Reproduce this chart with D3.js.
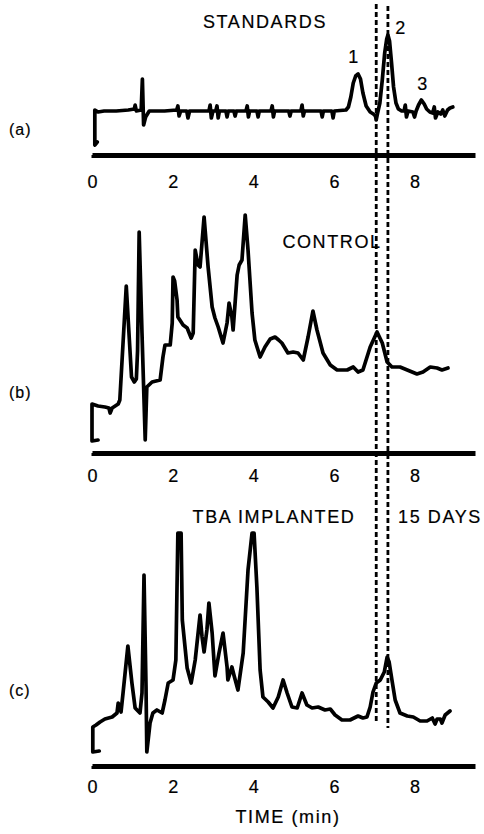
<!DOCTYPE html>
<html>
<head>
<meta charset="utf-8">
<script src="https://cdn.jsdelivr.net/npm/d3@7"></script>
<style>
  body { margin: 0; background: #fff; }
  text { font-family: "Liberation Sans", Arial, sans-serif; fill: #000; stroke: #000; stroke-width: 0.2px; }
</style>
</head>
<body>
<div id="chart"></div>
<script>
// chromatograms, time in min, response in arbitrary detector units

const timeTicks = [0, 2, 4, 6, 8];
const markerTimes = [7.05, 7.34];

const traceA = [
    [0.13,3],[0.07,0],[0.07,35],[0.15,33],[0.3,34],[0.6,34],[0.9,35],[1.05,36],[1.07,40],[1.1,34],[1.22,35],
    [1.25,66],[1.28,20],[1.33,28],[1.42,34],[1.8,34],[2.1,35],[2.13,39],[2.16,29],[2.2,34],[2.35,34],
    [2.38,27],[2.42,34],[2.9,34],[2.93,40],[2.96,27],[3.0,34],[3.07,34],[3.1,39],[3.13,27],[3.16,34],
    [3.32,34],[3.35,28],[3.38,34],[3.52,34],[3.55,29],[3.58,34],[3.82,34],[3.85,39],[3.88,28],[3.91,34],
    [4.09,34],[4.12,28],[4.15,34],[4.44,34],[4.47,39],[4.5,28],[4.53,34],[4.88,34],[4.91,29],[4.94,34],
    [5.18,34],[5.21,40],[5.24,29],[5.27,34],[5.68,34],[5.71,28],[5.74,34],[5.95,34],[5.98,27],[6.01,34],
    [6.3,35],[6.36,38],[6.42,48],[6.48,62],[6.54,69],[6.6,71],[6.66,66],[6.72,52],[6.8,39],[6.9,33],
    [6.98,31],[7.03,29],[7.05,25],[7.08,31],[7.14,42],[7.2,65],[7.26,92],[7.31,106],[7.34,110],[7.38,104],
    [7.43,82],[7.48,58],[7.54,42],[7.6,36],[7.68,34],[7.74,34],[7.77,40],[7.8,28],[7.84,34],[7.96,33],
    [8.0,28],[8.04,34],[8.1,40],[8.17,45],[8.24,41],[8.3,36],[8.38,33],[8.45,32],[8.49,38],[8.52,27],
    [8.58,33],[8.65,31],[8.7,35],[8.75,29],[8.82,35],[8.88,37],[8.95,38]
];

const traceB = [
    [0.15,1],[0,0],[0,37],[0.15,35],[0.32,34],[0.42,33],[0.45,28],[0.5,33],[0.65,37],[0.69,41],[0.85,155],
    [0.98,64],[1.05,59],[1.1,62],[1.13,90],[1.17,209],[1.24,108],[1.32,1],[1.36,54],[1.49,59],[1.69,61],
    [1.76,84],[1.81,96],[1.94,96],[1.99,118],[2.01,164],[2.05,160],[2.11,141],[2.13,124],[2.26,116],[2.36,113],
    [2.46,103],[2.51,108],[2.56,191],[2.63,176],[2.68,174],[2.78,224],[2.88,174],[2.98,134],[3.05,123],[3.13,114],
    [3.25,98],[3.35,118],[3.40,138],[3.47,124],[3.50,111],[3.60,166],[3.65,176],[3.72,181],[3.80,226],[3.87,191],
    [3.97,128],[4.04,101],[4.17,84],[4.29,94],[4.42,102],[4.54,104],[4.63,101],[4.71,98],[4.86,88],[4.99,89],
    [5.11,88],[5.24,81],[5.36,104],[5.48,130],[5.58,111],[5.73,88],[5.91,76],[6.08,71],[6.33,71],[6.48,74],
    [6.60,69],[6.72,71],[6.90,94],[7.07,109],[7.20,98],[7.32,79],[7.44,74],[7.64,74],[7.82,71],[8.06,67],
    [8.21,69],[8.39,74],[8.56,73],[8.68,71],[8.83,73]
];

const traceC = [
    [0.18,1],[0.02,0],[0.02,25],[0.1,27],[0.2,30],[0.32,33],[0.5,35],[0.62,39],[0.65,49],[0.72,40],[0.77,59],
    [0.89,106],[0.99,69],[1.07,44],[1.19,39],[1.24,59],[1.29,177],[1.34,65],[1.36,0],[1.44,29],[1.51,39],
    [1.61,42],[1.74,39],[1.81,52],[1.89,69],[2.01,72],[2.08,92],[2.13,219],[2.21,219],[2.24,132],[2.36,84],
    [2.46,69],[2.56,92],[2.68,137],[2.73,115],[2.78,100],[2.85,122],[2.90,149],[2.98,119],[3.05,76],[3.15,99],
    [3.25,119],[3.35,85],[3.37,72],[3.47,85],[3.52,77],[3.62,62],[3.75,99],[3.87,182],[3.97,219],[4.02,219],
    [4.09,165],[4.17,82],[4.24,55],[4.37,50],[4.49,44],[4.62,55],[4.74,72],[4.84,59],[4.96,45],[5.09,44],
    [5.21,59],[5.33,47],[5.46,44],[5.61,45],[5.78,42],[5.91,43],[6.03,37],[6.20,32],[6.40,32],[6.60,36],
    [6.72,34],[6.82,35],[6.90,45],[6.97,60],[7.05,69],[7.15,72],[7.25,80],[7.32,95],[7.37,90],[7.44,72],
    [7.52,52],[7.64,39],[7.82,36],[7.97,35],[8.14,31],[8.31,31],[8.44,34],[8.51,28],[8.56,33],[8.64,33],
    [8.68,29],[8.76,37],[8.88,41]
];

const W = 484, H = 834;
const svg = d3.select("#chart").append("svg")
    .attr("width", W)
    .attr("height", H);

const x = d3.scaleLinear().domain([0, 9.5]).range([92, 475]);

// one entry per chromatogram
const panels = [
    { key: "(a)", data: traceA, vmax: 110, bottom: 145, top: 35, axisY: 155, labelY: 131, tickPad: 17 },
    { key: "(b)", data: traceB, vmax: 226, bottom: 441, top: 215, axisY: 453, labelY: 394, tickPad: 13 },
    { key: "(c)", data: traceC, vmax: 220, bottom: 752, top: 532, axisY: 766, labelY: 692, tickPad: 11 }
];

panels.forEach(p => {
    const y = d3.scaleLinear().domain([0, p.vmax]).range([p.bottom, p.top]);

    const line = d3.line()
        .x(d => x(d[0]))
        .y(d => y(d[1]));

    svg.append("path")
        .datum(p.data)
        .attr("d", line)
        .attr("fill", "none")
        .attr("stroke", "#000")
        .attr("stroke-width", 3.7)
        .attr("stroke-linejoin", "round")
        .attr("stroke-linecap", "round");

    const ax = svg.append("g")
        .attr("transform", `translate(0,${p.axisY})`)
        .call(d3.axisBottom(x).tickValues(timeTicks).tickSize(3).tickSizeOuter(0).tickPadding(p.tickPad));

    ax.select(".domain")
        .attr("stroke", "#000")
        .attr("stroke-width", 5);
    ax.selectAll(".tick line")
        .attr("stroke", "#000")
        .attr("stroke-width", 2);
    ax.selectAll(".tick text")
        .style("font-size", "18px")
        .style("font-family", "Liberation Sans, Arial, sans-serif")
        .attr("fill", "#000");

    svg.append("text")
        .attr("x", 9)
        .attr("y", p.labelY)
        .attr("dominant-baseline", "middle")
        .style("font-size", "16px")
        .style("letter-spacing", "1px")
        .text(p.key);
});

// retention time markers
svg.selectAll(".marker")
    .data(markerTimes)
    .join("line")
    .attr("class", "marker")
    .attr("x1", d => x(d))
    .attr("x2", d => x(d))
    .attr("y1", (d, i) => i == 0 ? 4 : 6)
    .attr("y2", (d, i) => i == 0 ? 721 : 728)
    .attr("stroke", "#000")
    .attr("stroke-width", 2.8)
    .attr("stroke-dasharray", "5,3");

// texts
const labels = [
    { t: "STANDARDS", x: 265, y: 28 },
    { t: "1", x: 354, y: 63 },
    { t: "2", x: 401, y: 34 },
    { t: "3", x: 423, y: 90 },
    { t: "CONTROL", x: 332, y: 248 },
    { t: "TBA IMPLANTED", x: 274, y: 523 },
    { t: "15 DAYS", x: 440, y: 523 },
    { t: "TIME (min)", x: 288, y: 823 }
];

svg.selectAll(".lbl")
    .data(labels)
    .join("text")
    .attr("class", "lbl")
    .attr("x", d => d.x)
    .attr("y", d => d.y)
    .attr("text-anchor", "middle")
    .style("font-size", "18px")
    .style("letter-spacing", "1.6px")
    .text(d => d.t);
</script>
</body>
</html>
